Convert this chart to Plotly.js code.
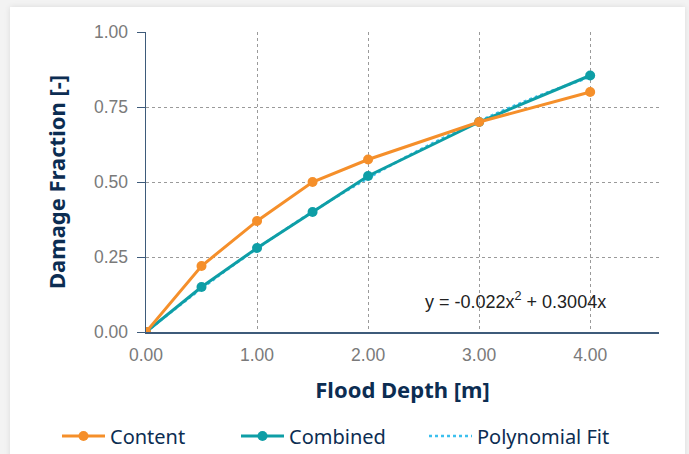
<!DOCTYPE html>
<html>
<head>
<meta charset="utf-8">
<script src="https://cdn.plot.ly/plotly-3.0.1.min.js"></script>
<style>
  html, body { margin: 0; padding: 0; width: 689px; height: 454px; background: #f3f3f3; overflow: hidden; }
  #card { position: absolute; left: 10px; top: 7px; width: 675px; height: 460px; background: #ffffff; box-shadow: 0 0 6px rgba(0,0,0,0.10); }
  #chart { position: absolute; left: 0; top: 0; width: 689px; height: 454px; }
</style>
</head>
<body>
<div id="card"></div>
<div id="chart"></div>
<script>
// Data
const depth = [0, 0.5, 1, 1.5, 2, 3, 4];
const contentDamage = [0, 0.22, 0.37, 0.50, 0.575, 0.70, 0.80];
const combinedDamage = [0, 0.15, 0.28, 0.40, 0.52, 0.70, 0.855];
const fitDepth = [0, 0.5, 1, 1.5, 2, 2.5, 3, 3.5, 4];
const fitDamage = [0, 0.145, 0.278, 0.401, 0.513, 0.614, 0.703, 0.782, 0.850];
const xTickVals = [0, 1, 2, 3, 4];
const xTickText = ['0.00', '1.00', '2.00', '3.00', '4.00'];
const yTickVals = [0, 0.25, 0.5, 0.75, 1];
const yTickText = ['0.00', '0.25', '0.50', '0.75', '1.00'];
const equationText = 'y = -0.022x<sup>2</sup> + 0.3004x';

const orange = '#F58F2A';
const teal = '#0E9EA6';
const fitBlue = '#3CC0EE';
const navy = '#0C2D52';

const traces = [
  {
    x: fitDepth, y: fitDamage, name: 'Polynomial Fit', type: 'scatter', mode: 'lines',
    line: { color: fitBlue, width: 2.5, dash: 'dot', shape: 'spline' },
    legend: 'legend3', hoverinfo: 'skip'
  },
  {
    x: depth, y: combinedDamage, name: 'Combined', type: 'scatter', mode: 'lines+markers',
    line: { color: teal, width: 3 }, marker: { color: teal, size: 10 },
    legend: 'legend2'
  },
  {
    x: depth, y: contentDamage, name: 'Content', type: 'scatter', mode: 'lines+markers',
    line: { color: orange, width: 3 }, marker: { color: orange, size: 10 },
    legend: 'legend'
  }
];

function legendAt(px) {
  return {
    orientation: 'h', xref: 'container', yref: 'container',
    x: px / 689, xanchor: 'left', y: 18 / 454, yanchor: 'middle',
    font: { family: 'Noto Sans, sans-serif', size: 20, color: navy },
    bgcolor: 'rgba(0,0,0,0)', itemwidth: 43
  };
}

const layout = {
  width: 689, height: 454,
  paper_bgcolor: 'rgba(0,0,0,0)',
  plot_bgcolor: 'rgba(0,0,0,0)',
  margin: { l: 146, r: 30, t: 32, b: 122 },
  showlegend: true,
  legend: legendAt(57),
  legend2: legendAt(236),
  legend3: legendAt(424),
  xaxis: {
    range: [0, 4.62], automargin: false,
    tickvals: xTickVals, ticktext: xTickText,
    showgrid: true, gridcolor: '#9a9a9a', griddash: 'dot', gridwidth: 1,
    showline: true, linecolor: '#3E5B7A', linewidth: 1.5,
    ticks: 'outside', ticklen: 6, tickcolor: 'rgba(0,0,0,0)', zeroline: false,
    tickfont: { family: 'Liberation Sans, Arial, sans-serif', size: 17.5, color: '#7a7a7a' },
    title: { text: '<b>Flood Depth [m]</b>', font: { family: 'Noto Sans, sans-serif', size: 22, color: navy }, standoff: 19 }
  },
  yaxis: {
    range: [0, 1], automargin: false,
    tickvals: yTickVals, ticktext: yTickText,
    showgrid: true, gridcolor: '#9a9a9a', griddash: 'dot', gridwidth: 1,
    showline: true, linecolor: '#3E5B7A', linewidth: 1.5,
    ticks: 'outside', ticklen: 8, tickcolor: '#3E5B7A', tickwidth: 1,
    ticklabelstandoff: 5,
    zeroline: false,
    tickfont: { family: 'Liberation Sans, Arial, sans-serif', size: 17.5, color: '#7a7a7a' },
    title: { text: '<b>Damage Fraction [-]</b>', font: { family: 'Noto Sans, sans-serif', size: 22, color: navy }, standoff: 22 }
  },
  annotations: [{
    text: equationText, xref: 'paper', yref: 'paper',
    x: (515 - 146) / 513, y: (332 - 300) / 300, xanchor: 'center', yanchor: 'middle',
    showarrow: false,
    font: { family: 'Liberation Sans, Arial, sans-serif', size: 18, color: '#222222' }
  }]
};

Plotly.newPlot('chart', traces, layout, { displayModeBar: false, staticPlot: true });
</script>
</body>
</html>
